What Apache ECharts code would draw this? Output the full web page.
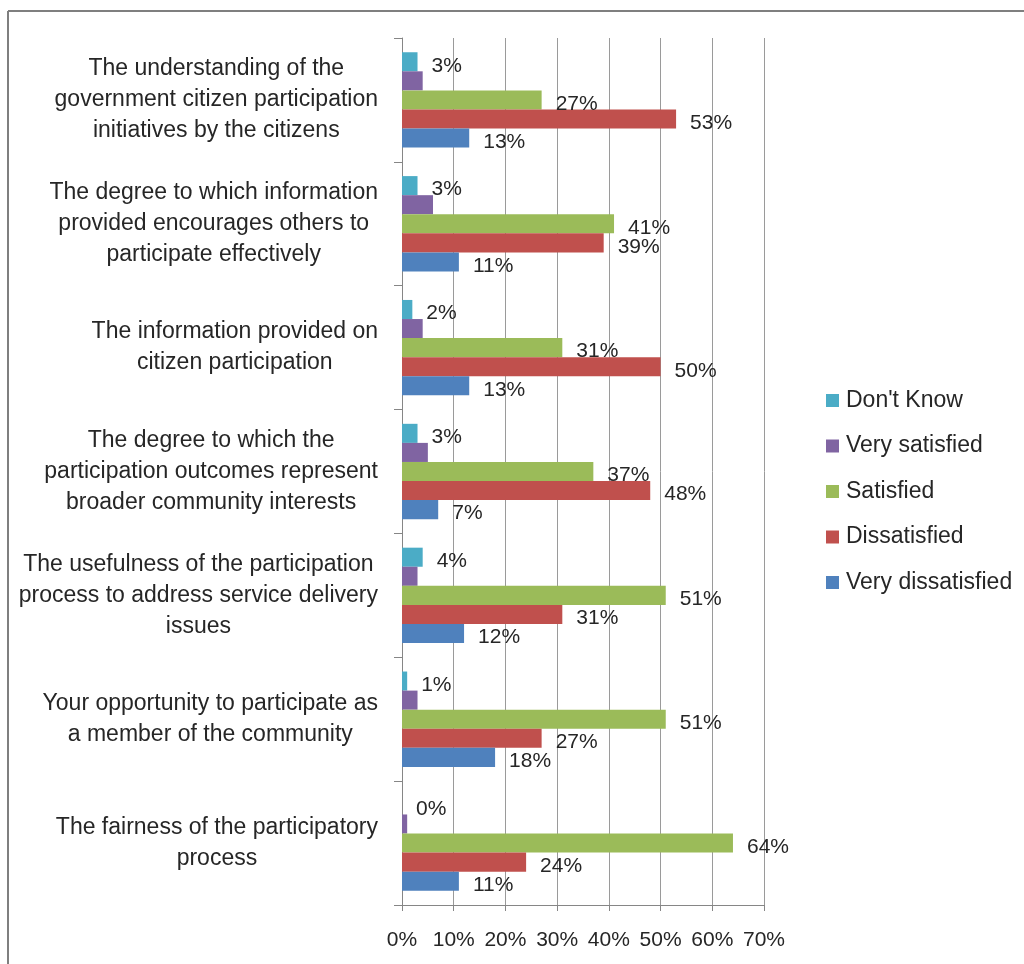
<!DOCTYPE html>
<html>
<head>
<meta charset="utf-8">
<script src="https://cdn.jsdelivr.net/npm/echarts@6/dist/echarts.min.js"></script>
<style>
html,body{margin:0;padding:0;background:#fff;}
#chart{width:1024px;height:964px;}
</style>
</head>
<body>
<div id="chart"></div>
<script>
const categories = [
  "The understanding of the\ngovernment citizen participation\ninitiatives by the citizens",
  "The degree to which information\nprovided encourages others to\nparticipate effectively",
  "The information provided on\ncitizen participation",
  "The degree to which the\nparticipation outcomes represent\nbroader community interests",
  "The usefulness of the participation\nprocess to address service delivery\nissues",
  "Your opportunity to participate as\na member of the community",
  "The fairness of the participatory\nprocess"
];
const seriesNames = ["Don't Know", "Very satisfied", "Satisfied", "Dissatisfied", "Very dissatisfied"];
const dontKnow = [3, 3, 2, 3, 4, 1, 0];
const verySatisfied = [4, 6, 4, 5, 3, 3, 1];
const satisfied = [27, 41, 31, 37, 51, 51, 64];
const dissatisfied = [53, 39, 50, 48, 31, 27, 24];
const veryDissatisfied = [13, 11, 13, 7, 12, 18, 11];
const showLabels = [true, false, true, true, true];
const colors = ['#4BACC6', '#8064A2', '#9BBB59', '#C0504D', '#4F81BD'];
const xTicks = [0, 10, 20, 30, 40, 50, 60, 70];

const FONT = 'Liberation Sans';
const TXT = '#262626';
const allData = [dontKnow, verySatisfied, satisfied, dissatisfied, veryDissatisfied];

const chart = echarts.init(document.getElementById('chart'));
chart.setOption({
  animation: false,
  backgroundColor: '#fff',
  color: colors,
  textStyle: {fontFamily: FONT},
  grid: {left: 402, right: 260, top: 38, bottom: 59, containLabel: false},
  legend: {
    orient: 'vertical',
    left: 826,
    top: 389,
    padding: 0,
    itemWidth: 13,
    itemHeight: 13,
    itemGap: 22.5,
    icon: 'rect',
    textStyle: {fontFamily: FONT, fontSize: 23, color: TXT, padding: [0, 0, 0, 2]},
    data: seriesNames
  },
  xAxis: {
    type: 'value',
    min: xTicks[0],
    max: xTicks[xTicks.length - 1],
    interval: 10,
    axisLine: {show: true, lineStyle: {color: '#868686', width: 1}},
    axisTick: {show: true, length: 6, lineStyle: {color: '#868686'}},
    splitLine: {show: true, lineStyle: {color: '#9a9a9a', width: 1}},
    axisLabel: {formatter: '{value}%', fontFamily: FONT, fontSize: 21, color: TXT, margin: 25}
  },
  yAxis: {
    type: 'category',
    inverse: true,
    data: categories,
    axisLine: {show: true, lineStyle: {color: '#868686', width: 1}},
    axisTick: {show: true, length: 8, lineStyle: {color: '#868686'}},
    axisLabel: {
      margin: 24,
      align: 'right',
      formatter: function (v) {
        return v.split('\n').map(function (l) { return '{c|' + l + '}'; }).join('\n');
      },
      rich: {
        c: {align: 'center', fontFamily: FONT, fontSize: 23, lineHeight: 31, color: TXT}
      }
    }
  },
  series: seriesNames.map(function (name, i) {
    return {
      name: name,
      type: 'bar',
      data: allData[i],
      barGap: '0%',
      barCategoryGap: '23%',
      itemStyle: {color: colors[i]},
      label: {
        show: showLabels[i],
        position: 'right',
        distance: 14,
        offset: [0, 4],
        formatter: '{c}%',
        fontFamily: FONT,
        fontSize: 21,
        color: TXT
      }
    };
  }),
  graphic: [
    {type: 'line', shape: {x1: 8, y1: 11, x2: 8, y2: 964}, style: {stroke: '#7f7f7f', lineWidth: 2}},
    {type: 'line', shape: {x1: 8, y1: 11, x2: 1024, y2: 11}, style: {stroke: '#7f7f7f', lineWidth: 2}}
  ]
});
</script>
</body>
</html>
